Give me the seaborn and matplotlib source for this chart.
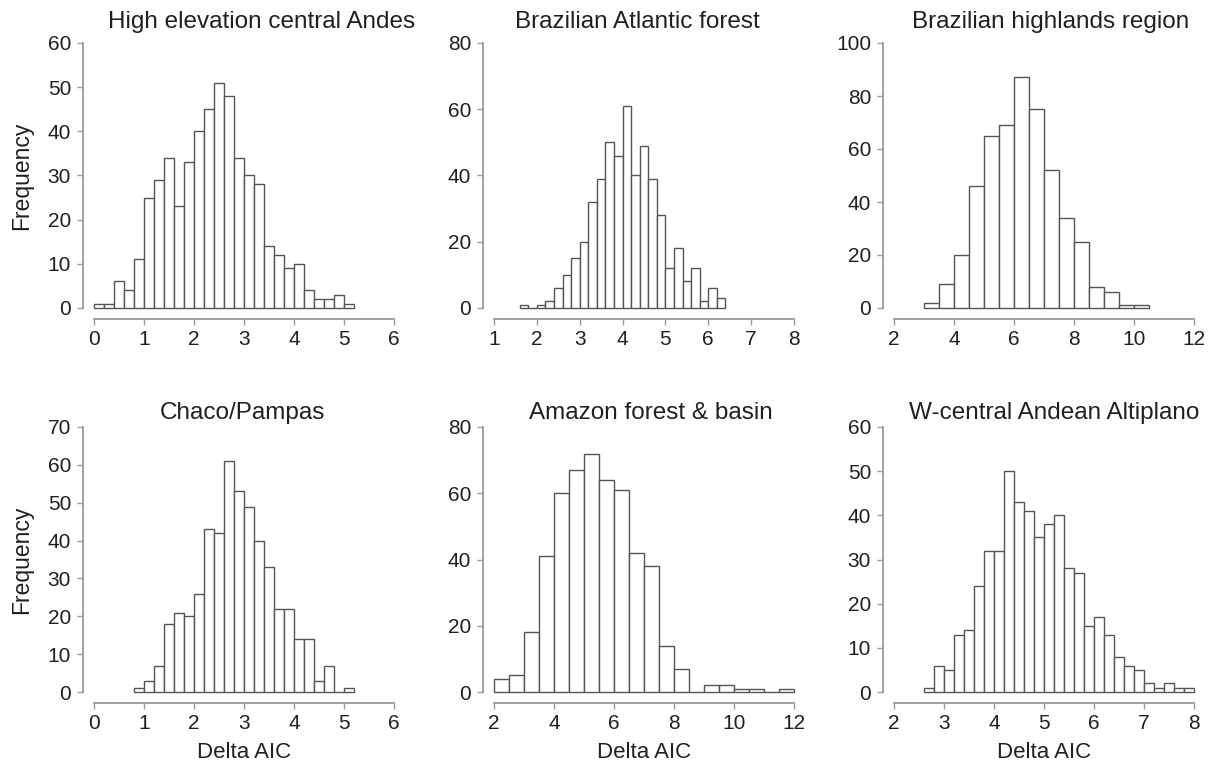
import numpy as np
import pandas as pd
import matplotlib
matplotlib.use("Agg")
import matplotlib.pyplot as plt
import seaborn as sns

# ---------------- data ----------------
titles = ["High elevation central Andes", "Brazilian Atlantic forest",
          "Brazilian highlands region", "Chaco/Pampas",
          "Amazon forest & basin", "W-central Andean Altiplano"]

# first bin edge and bin width of each histogram
bin_start = [0.0, 1.6, 3.0, 0.8, 2.0, 2.6]
bin_width = [0.2, 0.2, 0.5, 0.2, 0.5, 0.2]

counts_andes = [1, 1, 6, 4, 11, 25, 29, 34, 23, 33, 40, 45, 51, 48, 34, 30, 28,
                14, 12, 9, 10, 4, 2, 2, 3, 1]
counts_atlantic = [1, 0, 1, 2, 6, 10, 15, 20, 32, 39, 50, 46, 61, 40, 49, 39, 28,
                   12, 18, 8, 12, 2, 6, 3]
counts_highlands = [2, 9, 20, 46, 65, 69, 87, 75, 52, 34, 25, 8, 6, 1, 1]
counts_chaco = [1, 3, 7, 18, 21, 20, 26, 43, 42, 61, 53, 49, 40, 33, 22, 22, 14,
                14, 3, 7, 0, 1]
counts_amazon = [4, 5, 18, 41, 60, 67, 72, 64, 61, 42, 38, 14, 7, 0, 2, 2, 1, 1,
                 0, 1]
counts_altiplano = [1, 6, 5, 13, 14, 24, 32, 32, 50, 43, 41, 35, 38, 40, 28, 27,
                    15, 17, 13, 8, 6, 5, 2, 1, 2, 1, 1]
all_counts = [counts_andes, counts_atlantic, counts_highlands,
              counts_chaco, counts_amazon, counts_altiplano]

x_limits = [(0, 6), (1, 8), (2, 12), (0, 6), (2, 12), (2, 8)]
x_steps = [1, 1, 2, 1, 2, 1]
y_max = [60, 80, 100, 70, 80, 60]
y_steps = [10, 20, 20, 10, 20, 10]

x_label = "Delta AIC"
y_label = "Frequency"

# ---------------- style ----------------
sns.set_theme(style="white")
plt.rcParams["font.family"] = ["Liberation Sans", "DejaVu Sans"]
TXT = "#231f20"
AXC = "#9a9a9a"
BARC = "#555555"

W, H = 1217, 767
fig = plt.figure(figsize=(W / 100, H / 100), dpi=100)

# pixel layout of the data area of each panel
col_left = [94, 494, 894]
row_top = [43, 427]
pw, ph = 300, 265
title_x = [262, 637, 1051, 242, 651, 1054]
title_base = [28, 419]

for i in range(6):
    r, c = divmod(i, 3)
    ax = fig.add_axes([col_left[c] / W, 1 - (row_top[r] + ph) / H, pw / W, ph / H])
    cnt = np.array(all_counts[i], dtype=float)
    n = len(cnt)
    lo = bin_start[i]
    hi = bin_start[i] + bin_width[i] * n
    centers = lo + bin_width[i] * (np.arange(n) + 0.5)
    df = pd.DataFrame({"x": centers, "w": cnt})
    sns.histplot(data=df, x="x", weights="w", bins=n, binrange=(lo, hi), ax=ax,
                 color="white", edgecolor=BARC, linewidth=1.0, alpha=1.0)
    for p in ax.patches:
        p.set_clip_on(False)
    ax.set_xlim(*x_limits[i])
    ax.set_ylim(0, y_max[i])
    ax.set_xticks(np.arange(x_limits[i][0], x_limits[i][1] + 0.01, x_steps[i]))
    ax.set_yticks(np.arange(0, y_max[i] + 0.01, y_steps[i]))
    ax.set_xlabel("")
    ax.set_ylabel("")
    ax.patch.set_alpha(0)
    for s in ["top", "right"]:
        ax.spines[s].set_visible(False)
    for s in ["left", "bottom"]:
        ax.spines[s].set_position(("outward", 8))
        ax.spines[s].set_color(AXC)
        ax.spines[s].set_linewidth(1.3)
    ax.tick_params(axis="both", which="both", direction="out", length=4.5,
                   width=1.0, color=AXC, labelcolor=TXT, labelsize=15,
                   bottom=True, left=True)
    ax.tick_params(axis="y", pad=4)
    ax.tick_params(axis="x", pad=3.5)
    fig.text(title_x[i] / W, 1 - title_base[r] / H, titles[i], ha="center",
             va="baseline", fontsize=17.5, color=TXT)

for r in range(2):
    fig.text(22 / W, 1 - (row_top[r] + ph / 2) / H, y_label, rotation=90,
             ha="center", va="center", fontsize=16.5, color=TXT)
for c in range(3):
    fig.text((col_left[c] + pw / 2) / W, 1 - 752 / H, x_label, ha="center",
             va="center", fontsize=16, color=TXT)

fig.savefig("out.png", dpi=100)
